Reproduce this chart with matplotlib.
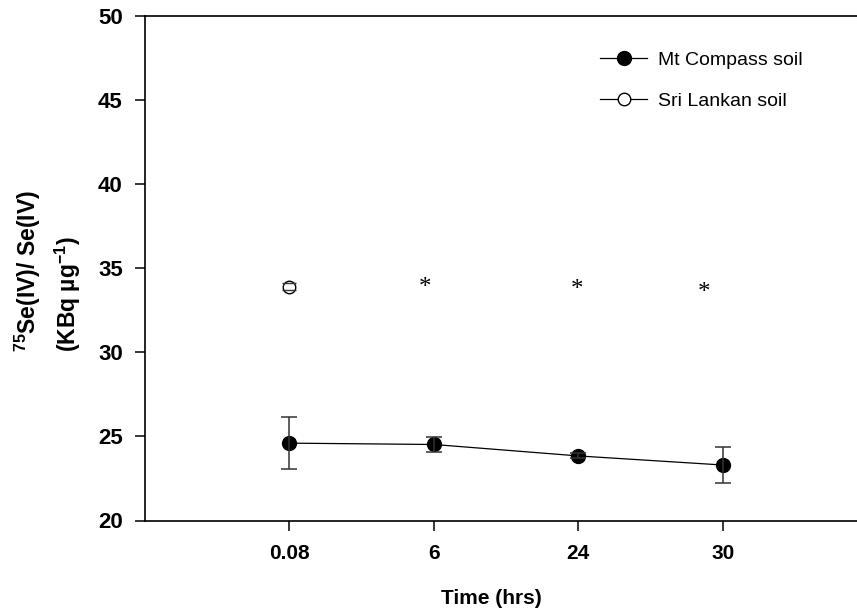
import matplotlib
matplotlib.use("Agg")
import matplotlib.pyplot as plt
from matplotlib.lines import Line2D

plt.rcParams["font.family"] = ["Liberation Sans", "DejaVu Sans"]
plt.rcParams["mathtext.fontset"] = "custom"
plt.rcParams["mathtext.bf"] = "Liberation Sans:bold"
plt.rcParams["mathtext.rm"] = "Liberation Sans:bold"
plt.rcParams["mathtext.default"] = "bf"

# data
time_labels = ["0.08", "6", "24", "30"]
mt_compass = [24.6, 24.52, 23.84, 23.3]
mt_compass_err = [1.53, 0.43, 0.15, 1.05]
sri_lankan = [33.9]
sri_lankan_err = [0.2]
star_pos = [0.94, 1.99, 2.87]
star_y = [34.1, 34.0, 33.8]

fig = plt.figure(figsize=(8.57, 6.15), dpi=100)
ax = fig.add_axes([145 / 857, 1 - 520.5 / 615, 712 / 857, 504.5 / 615])

x = list(range(len(time_labels)))
ax.plot(x, mt_compass, "-o", color="black", markersize=10, linewidth=0.9,
        zorder=3)
ax.errorbar(x, mt_compass, yerr=mt_compass_err, fmt="none",
            ecolor="#333333", elinewidth=1.1, capsize=5.5, capthick=1.1,
            zorder=4)
ax.plot(x[:1], sri_lankan, "o", color="black", mfc="white", mew=1.0,
        markersize=9, zorder=3)
# bar hidden inside the open circle, only the caps show
_, _, bars = ax.errorbar(x[:1], sri_lankan, yerr=sri_lankan_err, fmt="none",
                         ecolor="#333333", elinewidth=1.0, capsize=5,
                         capthick=1.0, zorder=4)
for b in bars:
    b.set_visible(False)

# significance markers
for sx, sy in zip(star_pos, star_y):
    ax.text(sx, sy - 0.3, "*", fontsize=18, family="Liberation Serif",
            ha="center", va="center")

ax.set_xlim(-1, 3.93)
ax.set_ylim(20, 50)
ax.set_xticks(x)
ax.set_xticklabels(time_labels)
ax.set_yticks(range(20, 51, 5))
ax.tick_params(direction="out", length=7, width=1.1, pad=10)
ax.tick_params(axis="x", labelsize=15)
ax.tick_params(axis="y", labelsize=16, pad=9)
for lab in ax.get_xticklabels() + ax.get_yticklabels():
    lab.set_fontweight("bold")
ax.spines["right"].set_visible(False)
for s in ["left", "bottom", "top"]:
    ax.spines[s].set_linewidth(1.2)

ax.set_xlabel("Time (hrs)", fontsize=15, fontweight="bold")
ax.xaxis.set_label_coords(0.487, -0.136)

fig.text(28 / 857, 1 - 352 / 615, r"$^{75}$Se(IV)/ Se(IV)", rotation=90,
         fontsize=16.5, fontweight="bold", ha="center", va="bottom")
fig.text(68 / 857, 1 - 352 / 615, r"(KBq µg$^{-1}$)", rotation=90,
         fontsize=16.5, fontweight="bold", ha="center", va="bottom")

handles = [
    Line2D([], [], color="black", marker="o", markersize=10, linewidth=0.9),
    Line2D([], [], color="black", marker="o", mfc="white", markersize=9,
           linewidth=0.9),
]
ax.legend(handles, ["Mt Compass soil", "Sri Lankan soil"], frameon=False,
          fontsize=14, loc="upper left", bbox_to_anchor=(0.615, 0.965),
          handlelength=2.4, labelspacing=1.2, handletextpad=0.55)

fig.savefig("out.png", dpi=100)
